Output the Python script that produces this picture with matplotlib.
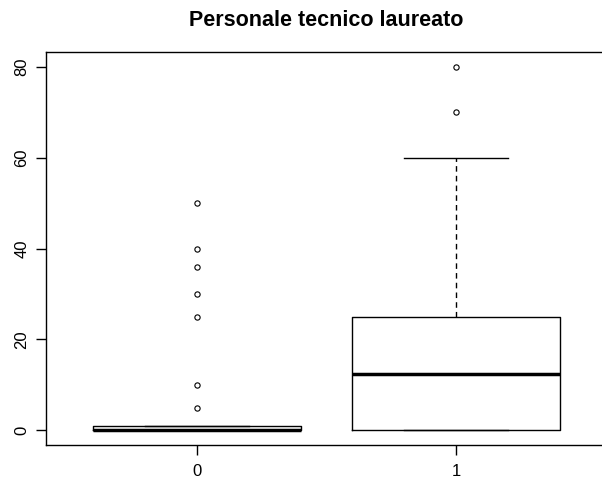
import matplotlib
matplotlib.use("Agg")
import matplotlib.pyplot as plt

plt.rcParams['font.family'] = ['Liberation Sans', 'DejaVu Sans']

groups = ["0", "1"]
q1 = [0, 0]
medians = [0, 12.5]
q3 = [1, 25]
whisker_low = [0, 0]
whisker_high = [1, 60]
outliers = [[5, 10, 25, 30, 36, 40, 50], [70, 80]]

stats = []
for i, g in enumerate(groups):
    stats.append(dict(label=g, q1=q1[i], med=medians[i], q3=q3[i],
                      whislo=whisker_low[i], whishi=whisker_high[i],
                      fliers=outliers[i]))

fig = plt.figure(figsize=(6.02, 4.79), dpi=100)
ax = fig.add_axes([46/602, 1-445/479, (607-46)/602, (445-52)/479])

ax.bxp(stats, positions=[1, 2], widths=0.8, showfliers=True,
       boxprops=dict(color='black', linewidth=1),
       medianprops=dict(color='black', linewidth=2.5),
       whiskerprops=dict(color='black', linewidth=1, linestyle=(0, (4, 3))),
       capprops=dict(color='black', linewidth=1),
       capwidths=0.4,
       flierprops=dict(marker='o', markersize=3.8, markerfacecolor='none',
                       markeredgecolor='black', markeredgewidth=0.8))

ax.set_xlim(0.42, 2.58)
ax.set_ylim(-3.2, 83.2)
ax.set_yticks([0, 20, 40, 60, 80])
ax.set_yticklabels(["0", "20", "40", "60", "80"], rotation=90, va='center')
ax.tick_params(axis='both', direction='out', length=7, labelsize=12, width=1)
ax.tick_params(axis='x', pad=7)
ax.tick_params(axis='y', pad=5)
for s in ax.spines.values():
    s.set_linewidth(1)
    s.set_color('black')

# title centred over the plotting region
ax.text(0.5, 1 - 20/479, "Personale tecnico laureato", transform=ax.transAxes,
        ha='center', va='center', fontsize=15.5, fontweight='bold')
ax.texts[-1].set_transform(
    matplotlib.transforms.blended_transform_factory(ax.transAxes, fig.transFigure))

fig.savefig("out.png", dpi=100)
